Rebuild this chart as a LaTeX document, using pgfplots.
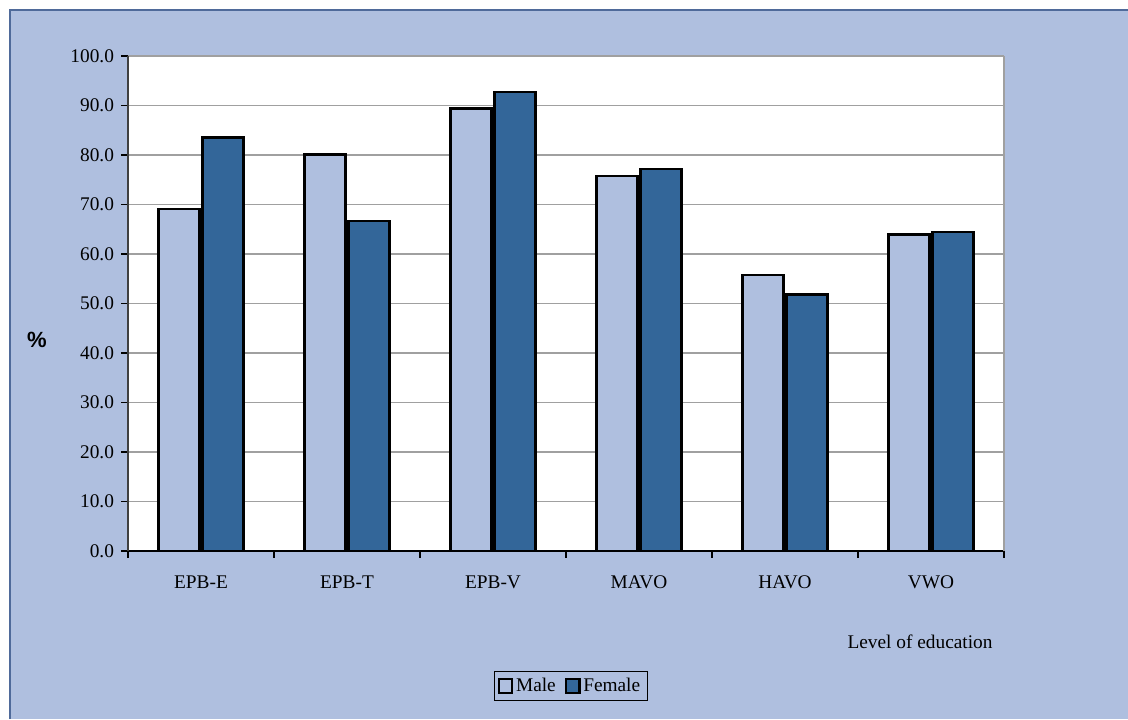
\documentclass[border=0pt]{standalone}
\usepackage{pgfplots}
\pgfplotsset{compat=1.18}
\usepackage{fontspec}
\setmainfont{Liberation Serif}
\newfontfamily\arialfont{Liberation Sans}
\definecolor{bgblue}{HTML}{AFBFDF}
\definecolor{darkbar}{HTML}{336699}
\definecolor{frameblue}{HTML}{4F6A9A}
\definecolor{gridgray}{HTML}{A0A0A0}
\begin{document}
\begin{tikzpicture}
\useasboundingbox (0,0) rectangle (846pt,539.25pt);
\fill[white] (0,0) rectangle (846pt,539.25pt);
\fill[bgblue] (7.5pt,0) rectangle (846pt,531.75pt);
\draw[frameblue,line width=1pt] (7.5pt,0) -- (7.5pt,531.75pt) -- (846pt,531.75pt);
\begin{axis}[
  at={(96pt,126pt)}, anchor=south west,
  scale only axis, width=657pt, height=371.25pt,
  ybar, bar width=30.75pt,
  xmin=-0.5, xmax=5.5, ymin=0, ymax=100,
  axis background/.style={fill=white},
  xtick={0,1,2,3,4,5},
  xticklabels={EPB-E,EPB-T,EPB-V,MAVO,HAVO,VWO},
  major x tick style={draw=none},
  minor xtick={-0.5,0.5,1.5,2.5,3.5,4.5,5.5},
  minor x tick style={black, line width=0.8pt},
  minor tick length=5pt,
  ytick={0,10,...,100},
  major tick length=5pt,
  tick align=outside,
  y tick style={black,line width=0.8pt},
  ymajorgrids, grid style={gridgray,line width=0.9pt},
  axis x line*=bottom, axis y line*=left,
  x axis line style={black,line width=1pt,-},
  y axis line style={black!75,line width=1.6pt,-},
  /pgf/number format/assume math mode=true,
  yticklabel style={/pgf/number format/fixed, /pgf/number format/fixed zerofill, /pgf/number format/precision=1},
  yticklabel style={font=\fontsize{14.5}{16}\selectfont, xshift=-2pt},
  xticklabel style={font=\fontsize{14.5}{16}\selectfont, yshift=-10pt},
  legend style={at={(0.505,-0.2727)}, anchor=center, legend columns=2,
    draw=black, fill=none, font=\fontsize{14.5}{16}\selectfont,
    inner xsep=3pt, inner ysep=3pt, /tikz/every even column/.append style={column sep=5pt}},
  legend image code/.code={\draw[#1,line width=1.6pt] (0pt,-5pt) rectangle (10pt,5pt);},
  clip=false,
]
\addplot[fill=bgblue, draw=black, line width=1.8pt] coordinates {(0,69.1) (1,80.1) (2,89.4) (3,75.7) (4,55.7) (5,63.9)};
\addplot[fill=darkbar, draw=black, line width=1.8pt] coordinates {(0,83.5) (1,66.7) (2,92.7) (3,77.2) (4,51.8) (5,64.4)};
\legend{Male,Female}
\draw[gridgray,line width=1pt] (rel axis cs:1,0) -- (rel axis cs:1,1);
\end{axis}
\node[font=\arialfont\bfseries\fontsize{16.5}{18}\selectfont] at (27.75pt,284.25pt) {\%};
\node[font=\fontsize{14.5}{16}\selectfont] at (690pt,57.75pt) {Level of education};
\end{tikzpicture}
\end{document}
